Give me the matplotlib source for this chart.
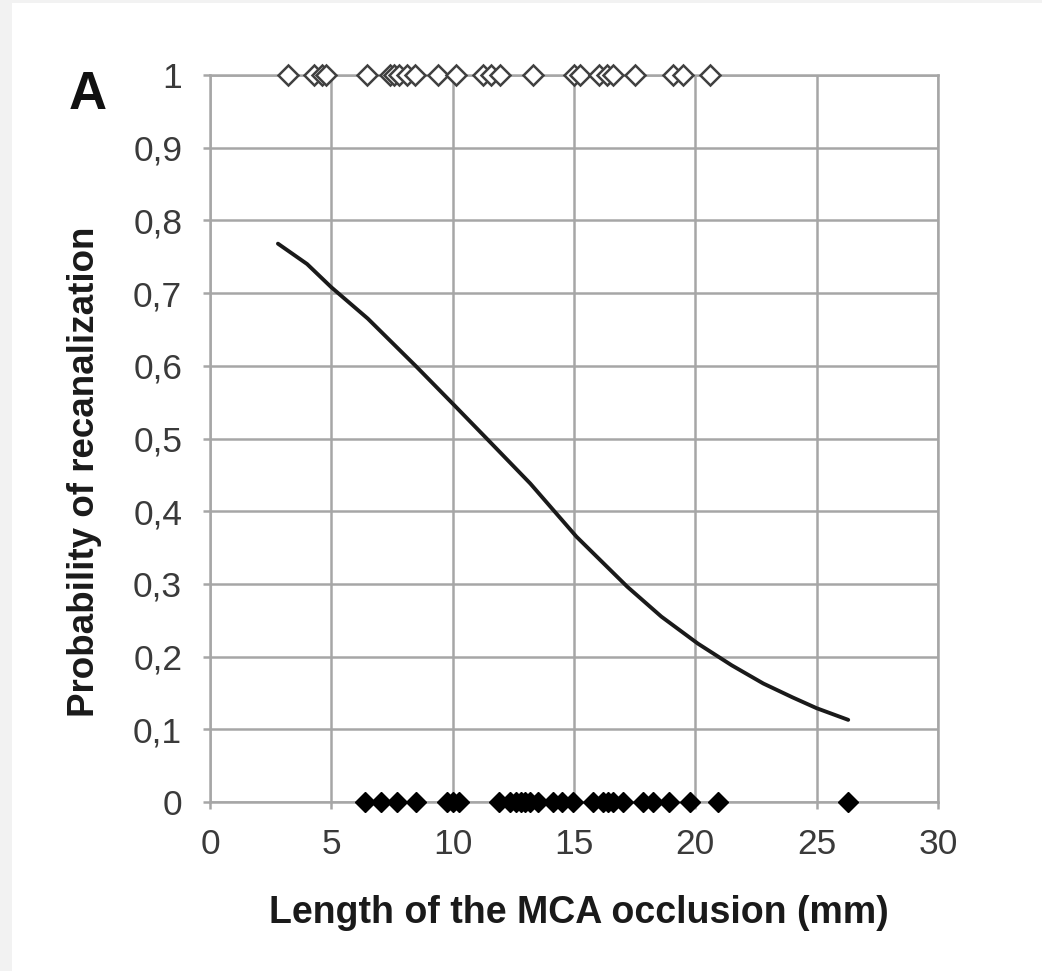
import matplotlib.pyplot as plt
from matplotlib.patches import Rectangle

# data
recan_len = [3.2, 4.3, 4.6, 4.8, 6.45, 7.4, 7.6, 7.8, 8.1, 8.45, 9.4, 10.15,
             11.25, 11.6, 11.95, 13.3, 15.0, 15.25, 16.05, 16.35, 16.6, 17.5,
             19.1, 19.5, 20.6]
no_recan_len = [6.4, 7.05, 7.7, 8.5, 9.75, 10.0, 10.25, 11.9, 12.35, 12.6, 12.8,
                13.0, 13.2, 13.5, 14.15, 14.5, 14.95, 15.8, 16.2, 16.4, 16.6,
                17.0, 17.85, 18.25, 18.9, 19.8, 20.95, 26.3]
curve_x = [2.8, 4.0, 5.0, 6.5, 8.5, 10.0, 11.4, 13.2, 15.1, 17.2, 18.6, 20.1,
           21.5, 22.8, 24.0, 25.0, 26.3]
curve_y = [0.768, 0.74, 0.708, 0.665, 0.599, 0.548, 0.50, 0.438, 0.365, 0.296,
           0.255, 0.218, 0.188, 0.163, 0.144, 0.129, 0.113]

xticks = [0, 5, 10, 15, 20, 25, 30]
yticks = [0, 0.1, 0.2, 0.3, 0.4, 0.5, 0.6, 0.7, 0.8, 0.9, 1]
ylabels = ["0", "0,1", "0,2", "0,3", "0,4", "0,5", "0,6", "0,7", "0,8", "0,9", "1"]

plt.rcParams['font.family'] = ['Liberation Sans', 'DejaVu Sans']

fig = plt.figure(figsize=(10.42, 9.71), dpi=100, facecolor='#f2f2f2')
fig.patches.append(Rectangle((12 / 1042, 0), 1, 1 - 3 / 971, transform=fig.transFigure,
                             facecolor='white', edgecolor='none', zorder=-10))

ax = fig.add_axes([210 / 1042, 1 - 802 / 971, 728 / 1042, 727 / 971])
ax.set_xlim(0, 30)
ax.set_ylim(0, 1)

grid_c = '#a6a6a6'
ax.grid(True, color=grid_c, linewidth=1.8)
ax.set_axisbelow(True)
for s in ax.spines.values():
    s.set_color(grid_c)
    s.set_linewidth(1.8)

ax.set_xticks(xticks)
ax.set_yticks(yticks)
ax.set_yticklabels(ylabels)
ax.tick_params(axis='both', colors=grid_c, width=1.8, length=5, direction='out',
               labelsize=25.5, labelcolor='#3a3a3a')
ax.tick_params(axis='y', pad=15)
ax.tick_params(axis='x', pad=14)

ax.plot(curve_x, curve_y, color='#1a1a1a', linewidth=2.8, zorder=3,
        solid_joinstyle='round', solid_capstyle='round')

ax.plot(recan_len, [1] * len(recan_len), linestyle='none', marker='D', markersize=10,
        markerfacecolor='white', markeredgecolor='#404040', markeredgewidth=1.8,
        clip_on=False, zorder=4)
ax.plot(no_recan_len, [0] * len(no_recan_len), linestyle='none', marker='D', markersize=10,
        markerfacecolor='black', markeredgecolor='black', clip_on=False, zorder=4)

ax.set_xlabel("Length of the MCA occlusion (mm)", fontsize=27, fontweight='bold',
              color='#1a1a1a')
ax.xaxis.set_label_coords((579 - 210) / 728, -(913 - 802) / 727)
ax.set_ylabel("Probability of recanalization", fontsize=26.5, fontweight='bold',
              color='#1a1a1a')
ax.yaxis.set_label_coords(-(210 - 85) / 728, (802 - 472) / 727)
ax.xaxis.label.set_va('center')
ax.yaxis.label.set_va('center')

fig.text(88 / 1042, 1 - 95 / 971, "A", fontsize=38, fontweight='bold',
         ha='center', va='center', color='#111111')

fig.savefig("out.png", dpi=100, facecolor=fig.get_facecolor())
